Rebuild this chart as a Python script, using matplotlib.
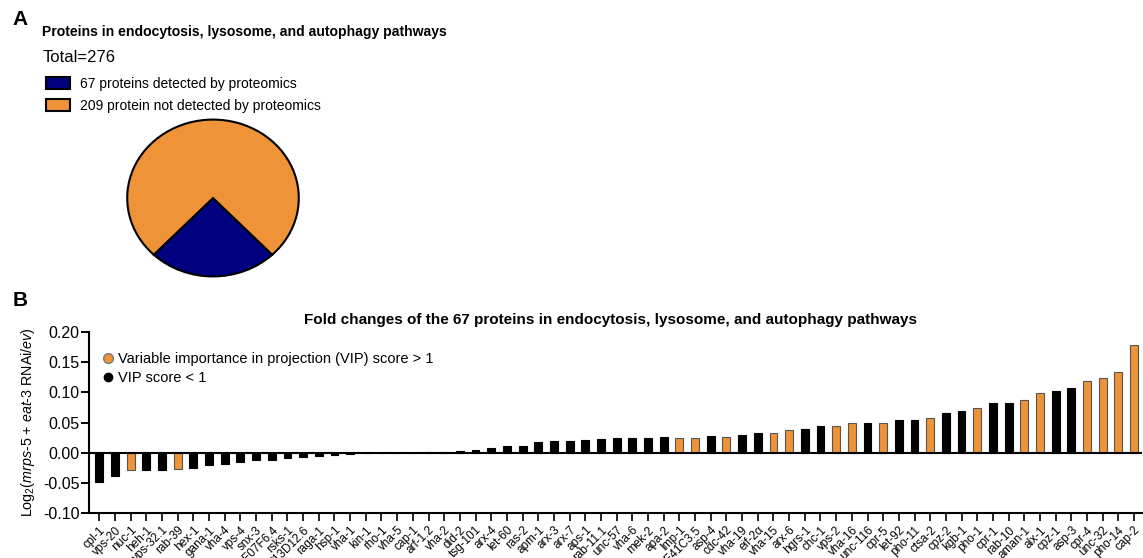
import numpy as np
import matplotlib
matplotlib.use("Agg")
import matplotlib.pyplot as plt
from matplotlib.patches import Patch
from matplotlib.lines import Line2D

plt.rcParams["font.family"] = ["Liberation Sans", "DejaVu Sans"]
plt.rcParams["mathtext.fontset"] = "custom"
plt.rcParams["mathtext.rm"] = "Liberation Sans"
plt.rcParams["mathtext.it"] = "Liberation Sans:italic"

# panel A data
pie_counts = [67, 209]
pie_labels = ["67 proteins detected by proteomics", "209 protein not detected by proteomics"]
total = 276

# panel B data
genes = ["cpl-1", "vps-20", "nuc-1", "heh-1", "vps-32.1", "rab-39", "hex-1", "gana-1",
         "vha-4", "vps-4", "snx-3", "F07F6.4", "rsks-1", "Y13D12.6", "raga-1", "hsp-1",
         "vha-1", "kin-1", "rho-1", "vha-5", "cap-1", "arf-1.2", "vha-2", "did-2",
         "tsg-101", "arx-4", "let-60", "ras-2", "apm-1", "arx-3", "arx-7", "aps-1",
         "rab-11.1", "unc-57", "vha-6", "mek-2", "apa-2", "lmp-1", "F41C3.5", "asp-4",
         "cdc-42", "vha-19", "eif-2\u03b1", "vha-15", "arx-6", "hgrs-1", "chc-1", "vps-2",
         "vha-16", "unc-116", "cpr-5", "let-92", "pho-11", "ctsa-2", "cpz-2", "kgb-1",
         "pho-1", "cpr-1", "rab-10", "aman-1", "alx-1", "cpz-1", "asp-3", "cpr-4",
         "unc-32", "pho-14", "cap-2"]
fold_change = [-0.049, -0.039, -0.029, -0.029, -0.029, -0.027, -0.025, -0.021,
               -0.019, -0.015, -0.012, -0.012, -0.008, -0.007, -0.006, -0.004,
               -0.002, -0.001, -0.0005, -0.0003, 0.0003, 0.0005, 0.001, 0.002,
               0.005, 0.008, 0.011, 0.011, 0.017, 0.019, 0.019, 0.021,
               0.022, 0.024, 0.025, 0.025, 0.026, 0.024, 0.024, 0.027,
               0.026, 0.030, 0.032, 0.032, 0.038, 0.040, 0.045, 0.045,
               0.049, 0.050, 0.050, 0.054, 0.054, 0.058, 0.065, 0.069,
               0.074, 0.083, 0.083, 0.088, 0.099, 0.102, 0.108, 0.118,
               0.123, 0.134, 0.179]
vip_high = ["nuc-1", "rab-39", "lmp-1", "F41C3.5", "cdc-42", "vha-15", "arx-6", "vps-2",
            "vha-16", "cpr-5", "ctsa-2", "pho-1", "aman-1", "alx-1", "cpr-4", "unc-32",
            "pho-14", "cap-2"]

orange = "#EE9338"
navy = "#000080"

fig = plt.figure(figsize=(11.43, 5.58), dpi=100)

# ---- panel A ----
fig.text(0.011, 0.965, "A", fontsize=15, fontweight="bold", va="center")
fig.text(0.037, 0.942, "Proteins in endocytosis, lysosome, and autophagy pathways",
         fontsize=10.1, fontweight="bold", va="center")
fig.text(0.037, 0.897, "Total=%d" % total, fontsize=12, va="center")

ax1 = fig.add_axes([0.1098, 0.5018, 0.1531, 0.2867])
start = 270 - 360 * pie_counts[0] / total / 2
ax1.pie(pie_counts, colors=[navy, orange], startangle=start,
        wedgeprops=dict(edgecolor="black", linewidth=1.5))
ax1.set_aspect("auto")
ax1.set_xlim(-1.02, 1.02)
ax1.set_ylim(-1.02, 1.02)

handles = [Patch(facecolor=navy, edgecolor="black", linewidth=1.5),
           Patch(facecolor=orange, edgecolor="black", linewidth=1.5)]
fig.legend(handles, pie_labels, loc="upper left", bbox_to_anchor=(0.035, 0.872),
           frameon=False, fontsize=10, handlelength=1.75, handleheight=0.95,
           handletextpad=0.7, labelspacing=0.55, borderaxespad=0)

# ---- panel B ----
fig.text(0.011, 0.462, "B", fontsize=15, fontweight="bold", va="center")

ax2 = fig.add_axes([0.0781, 0.0806, 0.9209, 0.3244])
x = np.arange(len(genes))
colors = [orange if g in vip_high else "black" for g in genes]
edges = ["#555555" if g in vip_high else "black" for g in genes]
ax2.bar(x, fold_change, width=0.5, color=colors, edgecolor=edges, linewidth=0.8)
ax2.axhline(0, color="black", linewidth=1.5)
ax2.set_xlim(-0.64, len(genes) - 0.5)
ax2.set_ylim(-0.10, 0.20)
ax2.set_yticks([-0.10, -0.05, 0.00, 0.05, 0.10, 0.15, 0.20])
ax2.set_yticklabels(["-0.10", "-0.05", "0.00", "0.05", "0.10", "0.15", "0.20"])
ax2.set_xticks(x)
ax2.set_xticklabels(genes, rotation=45, ha="right", rotation_mode="anchor", fontsize=8.5)
ax2.tick_params(axis="y", labelsize=11.5, length=6, width=1.4, pad=1)
ax2.tick_params(axis="x", length=6, width=1.2, pad=2)
for s in ["top", "right"]:
    ax2.spines[s].set_visible(False)
for s in ["left", "bottom"]:
    ax2.spines[s].set_linewidth(1.5)
ax2.set_ylabel(r"Log$_2$($\mathit{mrps}$-5 + $\mathit{eat}$-3 RNAi/$\mathit{ev}$)",
               fontsize=10.3, labelpad=4)
ax2.set_title("Fold changes of the 67 proteins in endocytosis, lysosome, and autophagy pathways",
              fontsize=11, fontweight="bold", x=0.495, pad=6)

leg_handles = [Line2D([], [], marker="o", linestyle="none", markerfacecolor=orange,
                      markeredgecolor="#777777", markersize=7),
               Line2D([], [], marker="o", linestyle="none", markerfacecolor="black",
                      markeredgecolor="black", markersize=6)]
ax2.legend(leg_handles, ["Variable importance in projection (VIP) score > 1", "VIP score < 1"],
           loc="upper left", bbox_to_anchor=(0.008, 0.92), frameon=False, fontsize=10.5,
           handlelength=0.6, handletextpad=0.4, labelspacing=0.3, borderaxespad=0)

fig.savefig("out.png", dpi=100)
